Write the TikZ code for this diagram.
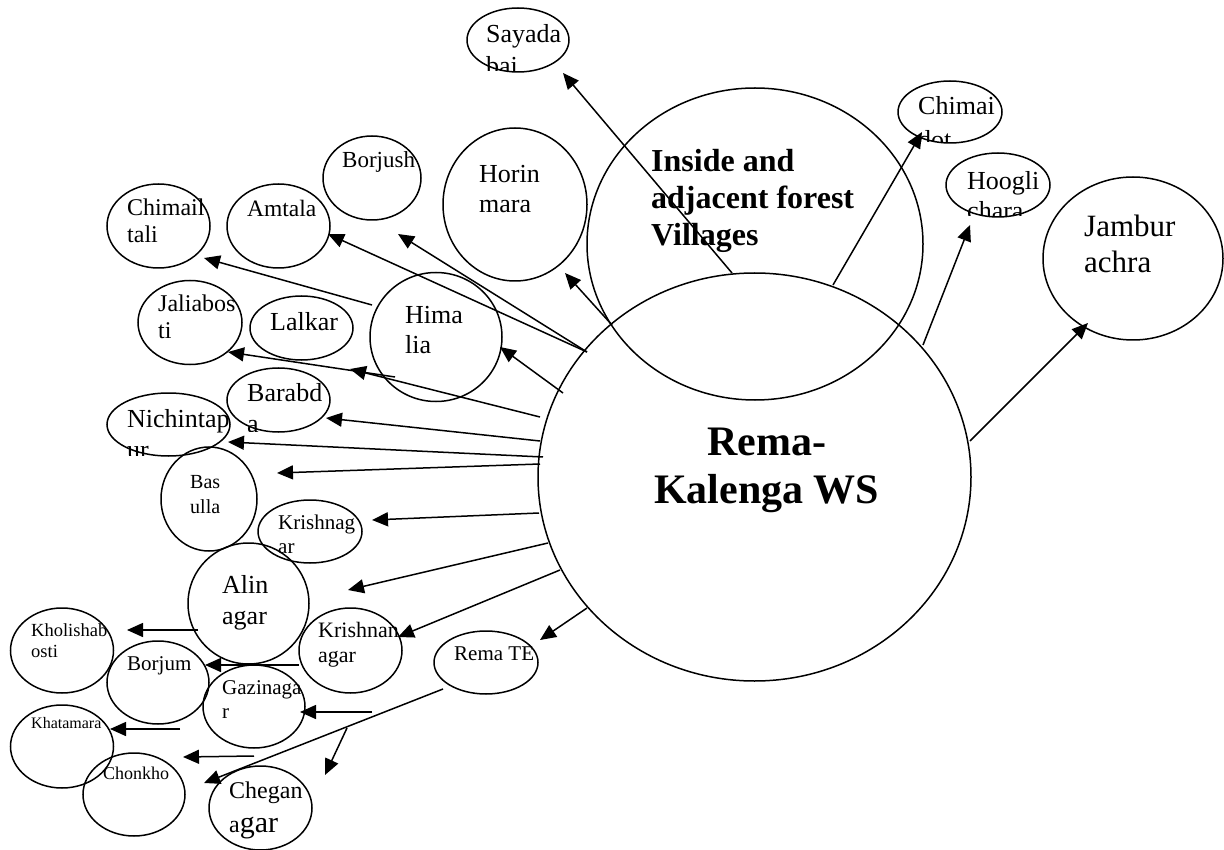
\documentclass[tikz,border=0pt]{standalone}
\usepackage{fontspec}
\setmainfont{Liberation Serif}
\usetikzlibrary{arrows.meta,shapes.geometric}

\tikzset{
  village/.style={ellipse, draw, line width=1.5pt, inner sep=0pt},
  vtext/.style={inner sep=0pt, anchor=base west},
  link/.style={line width=1.5pt, -{Triangle[length=16pt,width=14pt]}},
}

% #1 name, #2/#3 centre, #4/#5 radii, #6/#7 first baseline start, #8 font, #9 lines
\newcommand\placevillage[9]{%
  \node[village, minimum width={2*#4}, minimum height={2*#5}] (#1) at (#2,#3) {};
  \begin{scope}
    \clip ({#2-#4-20},{#3-#5-80}) rectangle ({#2+#4+40},{#3+#5-1});
    \node[vtext, font=#8] (#1-text) at (#6,#7) {\vtop{#9}};
  \end{scope}}

\begin{document}
\begin{tikzpicture}[x=1pt, y=-1pt]
\fill[white] (0,0) rectangle (1224,850);
\useasboundingbox (0,0) rectangle (1224,850);

% the sanctuary and the forest-village zone
\node[village, minimum width=433, minimum height=408] (ws) at (754.5,477) {};
\node[vtext, font=\bfseries\fontsize{42}{48}\selectfont] (ws-text) at (766,455)
  {\vtop{\hbox to 0pt{\hss Rema-\hss}\hbox to 0pt{\hss Kalenga WS\hss}}};
\node[village, minimum width=336, minimum height=312] (zone) at (755,244) {};
\node[vtext, font=\bfseries\fontsize{32}{37}\selectfont] (zone-text) at (651,172)
  {\vtop{\hbox{Inside and}\hbox{adjacent forest}\hbox{Villages}}};

% villages
\placevillage{sayadabai}{518}{40}{51}{32}{486}{43}{\fontsize{26}{32}\selectfont}{\hbox{Sayada}\hbox{bai}}
\placevillage{borjush}{372}{178}{49}{42}{342}{168}{\fontsize{23}{26}\selectfont}{\hbox{Borjush}}
\placevillage{amtala}{278.5}{226}{51.5}{42}{247}{217}{\fontsize{23.5}{26}\selectfont}{\hbox{Amtala}}
\placevillage{chimailtali}{158.5}{226}{51.5}{42}{127}{216}{\fontsize{24}{27}\selectfont}{\hbox{Chimail}\hbox{tali}}
\placevillage{horinmara}{515}{204.5}{72}{76.5}{479}{183}{\fontsize{26}{30}\selectfont}{\hbox{Horin}\hbox{mara}}
\placevillage{himalia}{436}{337}{66}{64.5}{405}{324}{\fontsize{26}{30}\selectfont}{\hbox{Hima}\hbox{lia}}
\placevillage{jaliabosti}{190}{322.5}{52}{42}{158}{312}{\fontsize{24}{27}\selectfont}{\hbox{Jaliabos}\hbox{ti}}
\placevillage{lalkar}{301.5}{328}{51.5}{32}{270}{331}{\fontsize{26}{29}\selectfont}{\hbox{Lalkar}}
\placevillage{barabda}{278.5}{400}{51.5}{32}{247}{402}{\fontsize{26}{31}\selectfont}{\hbox{Barabd}\hbox{a}}
\placevillage{nichintapur}{168.5}{424.5}{61.5}{31.5}{127}{427}{\fontsize{26}{31}\selectfont}{\hbox{Nichintap}\hbox{ur}}
\placevillage{basulla}{209}{499}{48}{52}{190}{488}{\fontsize{20}{25}\selectfont}{\hbox{Bas}\hbox{ulla}}
\placevillage{krishnagar}{310}{531.5}{52}{31.5}{278}{529}{\fontsize{21}{24}\selectfont}{\hbox{Krishnag}\hbox{ar}}
\placevillage{alinagar}{248.5}{603.5}{60.5}{60.5}{222}{593}{\fontsize{26}{31}\selectfont}{\hbox{Alin}\hbox{agar}}
\placevillage{krishnanagar}{350.5}{650.5}{51.5}{42.5}{318}{637}{\fontsize{22}{25}\selectfont}{\hbox{Krishnan}\hbox{agar}}
\placevillage{kholishabosti}{62}{650.5}{51.5}{42.5}{31}{636}{\fontsize{18.5}{21}\selectfont}{\hbox{Kholishab}\hbox{osti}}
\placevillage{borjum}{158}{682.5}{51}{41.5}{127}{670}{\fontsize{21}{24}\selectfont}{\hbox{Borjum}}
\placevillage{gazinagar}{254}{706.5}{51}{41.5}{222}{694}{\fontsize{21}{24}\selectfont}{\hbox{Gazinaga}\hbox{r}}
\placevillage{khatamara}{62}{746.5}{51.5}{41.5}{31}{728}{\fontsize{16}{19}\selectfont}{\hbox{Khatamara}}
\placevillage{chonkho}{134}{794.5}{51}{41.5}{103}{779}{\fontsize{18}{21}\selectfont}{\hbox{Chonkho}}
\placevillage{cheganagar}{260.5}{808}{51.5}{42}{229}{798}{\fontsize{24}{34}\selectfont}{\hbox{Chegan}\hbox{a{\fontsize{30}{34}\selectfont gar}}}
\placevillage{remate}{486}{662.5}{52}{31.5}{454}{660}{\fontsize{21}{24}\selectfont}{\hbox{Rema TE}}
\placevillage{chimaidot}{950}{112}{52}{31}{918}{115}{\fontsize{26}{34}\selectfont}{\hbox{Chimai}\hbox{dot}}
\placevillage{hooglichara}{998}{185}{52}{32}{967}{190}{\fontsize{26}{30}\selectfont}{\hbox{Hoogli}\hbox{chara}}
\placevillage{jamburachra}{1133}{258.5}{90}{81.5}{1084}{237}{\fontsize{31}{36}\selectfont}{\hbox{Jambur}\hbox{achra}}

% connector end points
\coordinate (s1) at (732,273);   \coordinate (e1) at (563,73);
\coordinate (s2) at (833,285);   \coordinate (e2) at (922,132);
\coordinate (s3) at (923,345);   \coordinate (e3) at (970,225);
\coordinate (s4) at (970,441);   \coordinate (e4) at (1088,323);
\coordinate (s5) at (612,325);   \coordinate (e5) at (565,273);
\coordinate (s6) at (587,352);   \coordinate (e6) at (398,234);
                                 \coordinate (e7) at (328,234);
\coordinate (s8) at (372,305);   \coordinate (e8) at (204,258);
\coordinate (s9) at (563,393);   \coordinate (e9) at (500,347);
\coordinate (s10) at (395,377);  \coordinate (e10) at (228,352);
\coordinate (s11) at (540,417);  \coordinate (e11) at (350,369);
\coordinate (s12) at (540,441);  \coordinate (e12) at (326,418);
\coordinate (s13) at (543,457);  \coordinate (e13) at (228,442);
\coordinate (s14) at (540,464);  \coordinate (e14) at (277,473);
\coordinate (s15) at (539,513);  \coordinate (e15) at (372,520);
\coordinate (s16) at (548,543);  \coordinate (e16) at (348,590);
\coordinate (s17) at (560,570);  \coordinate (e17) at (398,637);
\coordinate (s18) at (587,608);  \coordinate (e18) at (540,640);
\coordinate (s19) at (443,689);  \coordinate (e19) at (204,783);
\coordinate (b19) at (347,728);  \coordinate (f19) at (325,775);
\coordinate (s20) at (372,712);  \coordinate (e20) at (300,712);
\coordinate (s21) at (299,665);  \coordinate (e21) at (205,665);
\coordinate (s22) at (198,630);  \coordinate (e22) at (127,630);
\coordinate (s23) at (180,729);  \coordinate (e23) at (110,729);
\coordinate (s24) at (254,756);  \coordinate (e24) at (183,757);

% connectors
\foreach \i in {1,2,3,4,5,6,8,9,10,11,12,13,14,15,16,17,18,19,20,21,22,23,24}
  \draw[link] (s\i) -- (e\i);
\draw[link] (s6) -- (e7);
\draw[link] (b19) -- (f19);

\end{tikzpicture}
\end{document}
